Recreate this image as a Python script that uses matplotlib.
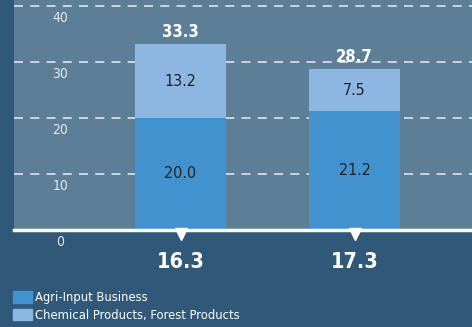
import numpy as np
import matplotlib.pyplot as plt
from matplotlib.patches import Patch
import matplotlib.transforms as mtransforms

# reference uses a condensed face
plt.rcParams['font.family'] = ['DejaVu Sans']
plt.rcParams['font.stretch'] = 'condensed'

periods = ['16.3', '17.3']
agri = [20.0, 21.2]
chem = [13.2, 7.5]
totals = [33.3, 28.7]
yticks = [0, 10, 20, 30, 40]

c_agri = '#4392d0'
c_chem = '#8db7e2'

fig = plt.figure(figsize=(4.72, 3.27), dpi=100)
fig.patch.set_facecolor('#2f5879')
ax = fig.add_axes([14 / 472, 1 - 230 / 327, 1 - 14 / 472, 230 / 327])
ax.set_facecolor('#5c7f97')

x = np.arange(len(periods))
w = 0.523
ax.bar(x, agri, w, color=c_agri, zorder=3)
ax.bar(x, chem, w, bottom=agri, color=c_chem, zorder=3)

ax.set_xlim(-0.957, 1.675)
ax.set_ylim(0, 41.07)

for v in yticks[1:]:
    ax.axhline(v, color='#d3dde5', lw=1.3, dashes=(5, 4), zorder=1)
ax.axhline(0, color='white', lw=2.5, zorder=4, clip_on=False)

for v in yticks:
    ax.annotate(str(v), (-0.69, v), xytext=(0, -12), textcoords='offset pixels',
                ha='center', va='center', color='#e2e8ee', fontsize=10,
                annotation_clip=False)

for i in range(len(periods)):
    ax.text(x[i], agri[i] / 2, f'{agri[i]:.1f}', ha='center', va='center',
            color='#222222', fontsize=11.5, zorder=5)
    ax.text(x[i], agri[i] + chem[i] / 2, f'{chem[i]:.1f}', ha='center', va='center',
            color='#222222', fontsize=11.5, zorder=5)
    ax.annotate(f'{totals[i]:.1f}', (x[i], totals[i]), xytext=(0, 12),
                textcoords='offset pixels', ha='center', va='center',
                color='white', fontsize=12, fontweight='bold', zorder=5)
    ax.annotate(periods[i], (x[i], 0), xytext=(0, -32), textcoords='offset pixels',
                ha='center', va='center', color='white', fontsize=15.5,
                fontweight='bold', annotation_clip=False)

tri = mtransforms.offset_copy(ax.transData, fig=fig, x=0, y=-4, units='dots')
ax.plot(x, [0] * len(x), 'v', color='white', ms=8, transform=tri,
        clip_on=False, zorder=5)

for s in ax.spines.values():
    s.set_visible(False)
ax.set_xticks([])
ax.set_yticks([])

handles = [Patch(color=c_agri), Patch(color=c_chem)]
leg = fig.legend(handles, ['Agri-Input Business', 'Chemical Products, Forest Products'],
                 loc='upper left', bbox_to_anchor=(13 / 472, 1 - 291 / 327),
                 frameon=False, fontsize=9.3, borderpad=0, borderaxespad=0,
                 handlelength=1.45, handleheight=1.0, handletextpad=0.25,
                 labelspacing=0.35)
for t in leg.get_texts():
    t.set_color('white')

fig.savefig('out.png', dpi=100, facecolor=fig.get_facecolor())
